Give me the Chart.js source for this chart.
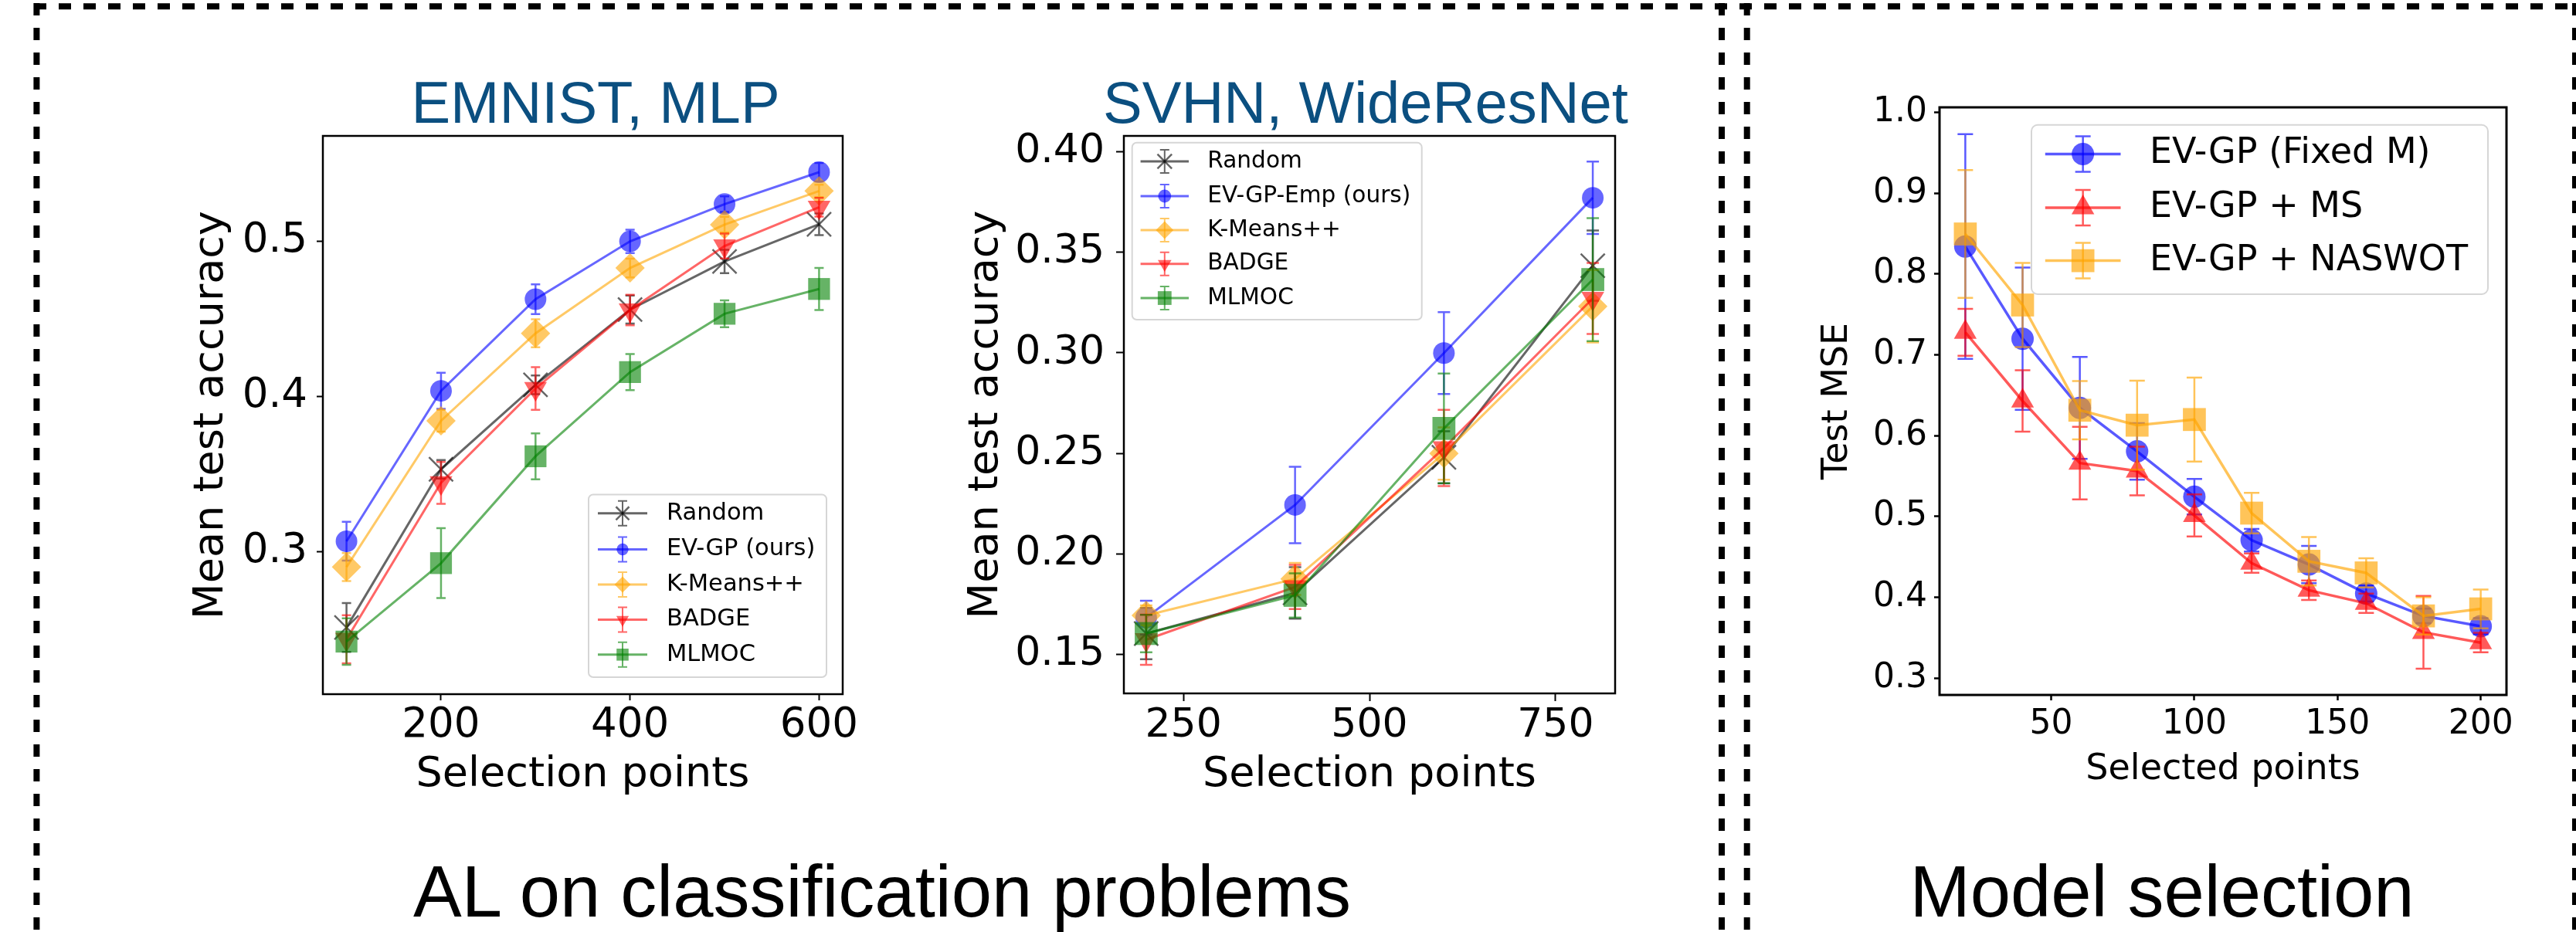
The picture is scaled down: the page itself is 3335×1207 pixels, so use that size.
<!DOCTYPE html>
<html>
<head>
<meta charset="utf-8">
<script src="https://cdn.jsdelivr.net/npm/chart.js@4.4.0/dist/chart.umd.min.js"></script>
<style>
html, body { margin: 0; padding: 0; background: #fff; }
#page { position: relative; width: 3335px; height: 1207px; overflow: hidden; background: #fff; }
#page svg { position: absolute; left: 0; top: 0; }
#page canvas { position: absolute; }
</style>
</head>
<body>
<div id="page">
<svg width="3335" height="1207">
  <g stroke="#000" stroke-width="8" stroke-dasharray="16 16" fill="none">
    <line x1="44" y1="8.3" x2="3335" y2="8.3"/>
    <line x1="47.4" y1="4" x2="47.4" y2="1207"/>
    <line x1="2229" y1="4" x2="2229" y2="1207"/>
    <line x1="2261.7" y1="4" x2="2261.7" y2="1207"/>
    <line x1="3334" y1="4" x2="3334" y2="1207"/>
  </g>
  <g font-family="'Liberation Sans', Arial, Helvetica, sans-serif" text-anchor="middle">
    <text x="771" y="159" font-size="76" fill="#0b4f80">EMNIST, MLP</text>
    <text x="1768" y="159" font-size="76" fill="#0b4f80">SVHN, WideResNet</text>
    <text x="1142" y="1187" font-size="94" fill="#000">AL on classification problems</text>
    <text x="2799" y="1187" font-size="94" fill="#000">Model selection</text>
  </g>
</svg>
<canvas id="emnist" width="1000" height="1000" style="left:150px;top:100px"></canvas>
<canvas id="svhn" width="1000" height="1000" style="left:1150px;top:100px"></canvas>
<canvas id="modelsel" width="1000" height="1000" style="left:2300px;top:100px"></canvas>
</div>
<script>
// ---- EMNIST, MLP ----
const emnistX = [100, 200, 300, 400, 500, 600];
const emnistRandom = [0.251, 0.353, 0.4075, 0.456, 0.487, 0.511];
const emnistRandomErr = [0.0157, 0.006, 0.006, 0.009, 0.0075, 0.007];
const emnistEvgp = [0.3066, 0.4036, 0.4627, 0.500, 0.524, 0.5446];
const emnistEvgpErr = [0.0125, 0.0116, 0.0096, 0.0075, 0.005, 0.006];
const emnistKmeans = [0.290, 0.3843, 0.4407, 0.4828, 0.5108, 0.5325];
const emnistKmeansErr = [0.009, 0.007, 0.009, 0.006, 0.005, 0.004];
const emnistBadge = [0.2434, 0.3443, 0.4051, 0.4557, 0.497, 0.522];
const emnistBadgeErr = [0.0155, 0.0135, 0.0138, 0.0098, 0.008, 0.006];
const emnistMlmoc = [0.2419, 0.2925, 0.3614, 0.4157, 0.4533, 0.4693];
const emnistMlmocErr = [0.015, 0.0225, 0.0148, 0.0116, 0.0087, 0.0136];
const emnistXTicks = [200, 400, 600];
const emnistYTicks = [0.3, 0.4, 0.5];
const emnistYTickLabels = ['0.3', '0.4', '0.5'];

// ---- SVHN, WideResNet ----
const svhnX = [200, 400, 600, 800];
const svhnRandom = [0.1603, 0.1805, 0.248, 0.3434];
const svhnRandomErr = [0.0128, 0.0128, 0.013, 0.0175];
const svhnEvgp = [0.1682, 0.2243, 0.2999, 0.3772];
const svhnEvgpErr = [0.0084, 0.019, 0.0204, 0.018];
const svhnKmeans = [0.1693, 0.1875, 0.2499, 0.3232];
const svhnKmeansErr = [0.005, 0.008, 0.013, 0.018];
const svhnBadge = [0.1572, 0.1835, 0.2527, 0.3271];
const svhnBadgeErr = [0.0125, 0.011, 0.019, 0.0177];
const svhnMlmoc = [0.1603, 0.1793, 0.2624, 0.3365];
const svhnMlmocErr = [0.0093, 0.011, 0.0273, 0.0306];
const svhnXTicks = [250, 500, 750];
const svhnYTicks = [0.15, 0.20, 0.25, 0.30, 0.35, 0.40];
const svhnYTickLabels = ['0.15', '0.20', '0.25', '0.30', '0.35', '0.40'];

// ---- Model selection ----
const msX = [20, 40, 60, 80, 100, 120, 140, 160, 180, 200];
const msFixed = [0.834, 0.720, 0.6344, 0.5806, 0.5245, 0.4707, 0.4406, 0.4047, 0.377, 0.3642];
const msFixedErr = [0.139, 0.088, 0.063, 0.035, 0.022, 0.014, 0.023, 0.010, 0.009, 0.010];
const msMs = [0.728, 0.643, 0.5661, 0.5563, 0.5013, 0.4423, 0.4088, 0.3926, 0.3567, 0.344];
const msMsErr = [0.029, 0.038, 0.045, 0.030, 0.026, 0.012, 0.012, 0.012, 0.045, 0.012];
const msNaswot = [0.8496, 0.7617, 0.6315, 0.613, 0.620, 0.5042, 0.4446, 0.4302, 0.377, 0.3857];
const msNaswotErr = [0.079, 0.052, 0.036, 0.055, 0.052, 0.025, 0.030, 0.018, 0.023, 0.024];
const msXTicks = [50, 100, 150, 200];
const msYTicks = [0.3, 0.4, 0.5, 0.6, 0.7, 0.8, 0.9, 1.0];
const msYTickLabels = ['0.3', '0.4', '0.5', '0.6', '0.7', '0.8', '0.9', '1.0'];

const FONT = "'DejaVu Sans', sans-serif";
const BLACK = [0, 0, 0], BLUE = [0, 0, 255], ORANGE = [255, 165, 0], RED = [255, 0, 0], GREEN = [0, 128, 0];

function rgba(c, a) { return 'rgba(' + c[0] + ',' + c[1] + ',' + c[2] + ',' + a + ')'; }

// vertical error bars with caps, drawn under each series
const errorBars = {
  id: 'errorBars',
  beforeDatasetDraw(chart, args, opts) {
    const ds = chart.data.datasets[args.index];
    if (!ds.errors) return;
    const ctx = chart.ctx, xs = chart.scales.x, ys = chart.scales.y;
    ctx.save();
    ctx.strokeStyle = ds.borderColor;
    ctx.lineWidth = opts.width;
    ctx.beginPath();
    ds.data.forEach((p, j) => {
      const x = xs.getPixelForValue(p.x);
      const lo = ys.getPixelForValue(p.y - ds.errors[j]);
      const hi = ys.getPixelForValue(p.y + ds.errors[j]);
      ctx.moveTo(x, lo); ctx.lineTo(x, hi);
      ctx.moveTo(x - opts.cap, lo); ctx.lineTo(x + opts.cap, lo);
      ctx.moveTo(x - opts.cap, hi); ctx.lineTo(x + opts.cap, hi);
    });
    ctx.stroke();
    ctx.restore();
  }
};

// full box around the plot area (matplotlib spines)
const frame = {
  id: 'frame',
  afterDatasetsDraw(chart, args, opts) {
    const a = chart.chartArea, ctx = chart.ctx;
    ctx.save();
    ctx.strokeStyle = '#000';
    ctx.lineWidth = opts.width;
    ctx.strokeRect(a.left, a.top, a.right - a.left, a.bottom - a.top);
    ctx.restore();
  }
};

// legend inside the axes, matplotlib style
const boxLegend = {
  id: 'boxLegend',
  afterDatasetsDraw(chart, args, o) {
    if (!o.box) return;
    const ctx = chart.ctx;
    const [bx, by, bw, bh] = o.box;
    ctx.save();
    ctx.beginPath();
    ctx.roundRect(bx, by, bw, bh, o.corner);
    ctx.fillStyle = 'rgba(255,255,255,0.8)';
    ctx.fill();
    ctx.strokeStyle = '#d6d6d6';
    ctx.lineWidth = 2;
    ctx.stroke();
    ctx.font = o.fontSize + 'px ' + FONT;
    ctx.textBaseline = 'middle';
    ctx.textAlign = 'left';
    chart.data.datasets.forEach((ds, i) => {
      const y = o.rows[i], x0 = o.handle[0], x1 = o.handle[1], xm = (x0 + x1) / 2;
      ctx.strokeStyle = ds.borderColor;
      ctx.lineWidth = ds.borderWidth;
      ctx.beginPath(); ctx.moveTo(x0, y); ctx.lineTo(x1, y); ctx.stroke();
      ctx.lineWidth = o.errWidth;
      ctx.beginPath();
      ctx.moveTo(xm, y - o.errH); ctx.lineTo(xm, y + o.errH);
      ctx.moveTo(xm - o.cap, y - o.errH); ctx.lineTo(xm + o.cap, y - o.errH);
      ctx.moveTo(xm - o.cap, y + o.errH); ctx.lineTo(xm + o.cap, y + o.errH);
      ctx.stroke();
      ctx.fillStyle = ds.pointBackgroundColor;
      ctx.strokeStyle = ds.pointBorderColor;
      ctx.lineWidth = ds.pointBorderWidth;
      Chart.helpers.drawPoint(ctx, {
        pointStyle: ds.pointStyle, rotation: ds.pointRotation || 0,
        radius: ds.pointRadius * o.markerScale, borderWidth: ds.pointBorderWidth
      }, xm, y);
      ctx.fillStyle = '#000';
      ctx.fillText(ds.label, o.textX, y);
    });
    ctx.restore();
  }
};

function series(label, xs, ys, errs, color, style, radius, lw, alpha, extra) {
  const c = rgba(color, alpha);
  return Object.assign({
    label: label,
    data: xs.map((x, j) => ({ x: x, y: ys[j] })),
    errors: errs,
    borderColor: c,
    backgroundColor: c,
    borderWidth: lw,
    pointStyle: style,
    pointRadius: radius,
    pointHoverRadius: radius,
    pointBackgroundColor: c,
    pointBorderColor: c,
    pointBorderWidth: style === 'crossRot' ? 2.5 : 0,
    tension: 0
  }, extra || {});
}

function makeChart(id, datasets, ax, L) {
  datasets.forEach((d, i) => { d.order = datasets.length - i; });
  return new Chart(document.getElementById(id), {
    type: 'line',
    data: { datasets: datasets },
    options: {
      responsive: false,
      devicePixelRatio: 1,
      animation: false,
      events: [],
      layout: { padding: { left: 0, top: L.pt, right: L.pr, bottom: 0 } },
      plugins: {
        legend: { display: false },
        tooltip: { enabled: false },
        errorBars: L.err,
        frame: { width: L.frame },
        boxLegend: L.legend
      },
      scales: {
        x: {
          type: 'linear', min: ax.xMin, max: ax.xMax,
          afterBuildTicks: s => { s.ticks = ax.xTicks.map(v => ({ value: v })); },
          afterFit: s => { s.height = L.xh; },
          ticks: {
            autoSkip: false, maxRotation: 0, padding: L.xPad, color: '#000',
            font: { family: FONT, size: L.tickSize },
            callback: (v, i) => String(ax.xTicks[i])
          },
          grid: { drawOnChartArea: false, drawTicks: true, tickLength: L.tick, tickWidth: L.tickW, tickColor: '#000' },
          border: { display: false },
          title: {
            display: true, text: ax.xTitle, color: '#000',
            font: { family: FONT, size: L.labelSize },
            padding: { top: 0, bottom: L.xTitlePad }
          }
        },
        y: {
          type: 'linear', min: ax.yMin, max: ax.yMax,
          afterBuildTicks: s => { s.ticks = ax.yTicks.map(v => ({ value: v })); },
          afterFit: s => { s.width = L.yw; },
          ticks: {
            padding: L.yPad, color: '#000',
            font: { family: FONT, size: L.tickSize },
            callback: (v, i) => ax.yTickLabels[i]
          },
          grid: { drawOnChartArea: false, drawTicks: true, tickLength: L.tick, tickWidth: L.tickW, tickColor: '#000' },
          border: { display: false },
          title: {
            display: true, text: ax.yTitle, color: '#000',
            font: { family: FONT, size: L.labelSize },
            padding: { top: L.yTitlePad, bottom: 0 }
          }
        }
      }
    },
    plugins: [errorBars, frame, boxLegend]
  });
}

const A = 0.6;

makeChart('emnist', [
  series('Random', emnistX, emnistRandom, emnistRandomErr, BLACK, 'crossRot', 22, 3, A),
  series('EV-GP (ours)', emnistX, emnistEvgp, emnistEvgpErr, BLUE, 'circle', 14, 3, A),
  series('K-Means++', emnistX, emnistKmeans, emnistKmeansErr, ORANGE, 'rectRot', 19, 3, A),
  series('BADGE', emnistX, emnistBadge, emnistBadgeErr, RED, 'triangle', 17, 3, A, { pointRotation: 180 }),
  series('MLMOC', emnistX, emnistMlmoc, emnistMlmocErr, GREEN, 'rect', 20, 3, A)
], {
  xMin: 75, xMax: 625, yMin: 0.208, yMax: 0.568,
  xTicks: emnistXTicks, yTicks: emnistYTicks, yTickLabels: emnistYTickLabels,
  xTitle: 'Selection points', yTitle: 'Mean test accuracy'
}, {
  pt: 76, pr: 59, xh: 201, yw: 268, tick: 8, tickW: 2, frame: 2.5,
  tickSize: 53, labelSize: 54, xPad: 1, yPad: 12, xTitlePad: 64, yTitlePad: 92,
  err: { width: 2.5, cap: 6 },
  legend: {
    box: [612, 540.5, 308, 236.5], corner: 6, rows: [564.8, 611.5, 657, 702.4, 747.8],
    handle: [624, 688], textX: 713, fontSize: 30.5, errH: 16, cap: 6, errWidth: 2, markerScale: 0.55
  }
});

makeChart('svhn', [
  series('Random', svhnX, svhnRandom, svhnRandomErr, BLACK, 'crossRot', 22, 3, A),
  series('EV-GP-Emp (ours)', svhnX, svhnEvgp, svhnEvgpErr, BLUE, 'circle', 14, 3, A),
  series('K-Means++', svhnX, svhnKmeans, svhnKmeansErr, ORANGE, 'rectRot', 19, 3, A),
  series('BADGE', svhnX, svhnBadge, svhnBadgeErr, RED, 'triangle', 17, 3, A, { pointRotation: 180 }),
  series('MLMOC', svhnX, svhnMlmoc, svhnMlmocErr, GREEN, 'rect', 21, 3, A)
], {
  xMin: 170, xMax: 830, yMin: 0.1305, yMax: 0.408,
  xTicks: svhnXTicks, yTicks: svhnYTicks, yTickLabels: svhnYTickLabels,
  xTitle: 'Selection points', yTitle: 'Mean test accuracy'
}, {
  pt: 76, pr: 59, xh: 202, yw: 305, tick: 10, tickW: 2, frame: 2.5,
  tickSize: 52, labelSize: 54, xPad: 1, yPad: 15, xTitlePad: 64, yTitlePad: 95,
  err: { width: 2.5, cap: 8 },
  legend: {
    box: [315.7, 84.8, 375, 229.2], corner: 6, rows: [109, 154, 198, 241.8, 286],
    handle: [326.6, 389], textX: 413.3, fontSize: 29.6, errH: 15, cap: 6, errWidth: 2, markerScale: 0.6
  }
});

makeChart('modelsel', [
  series('EV-GP (Fixed M)', msX, msFixed, msFixedErr, BLUE, 'circle', 14.5, 3.5, 0.65),
  series('EV-GP + MS', msX, msMs, msMsErr, RED, 'triangle', 17, 3.5, 0.65),
  series('EV-GP + NASWOT', msX, msNaswot, msNaswotErr, ORANGE, 'rect', 21, 3.5, 0.65)
], {
  xMin: 11, xMax: 209, yMin: 0.2792, yMax: 1.0063,
  xTicks: msXTicks, yTicks: msYTicks, yTickLabels: msYTickLabels,
  xTitle: 'Selected points', yTitle: 'Test MSE'
}, {
  pt: 39, pr: 55, xh: 200, yw: 211, tick: 7, tickW: 2.5, frame: 3,
  tickSize: 44, labelSize: 46, xPad: 5, yPad: 9, xTitlePad: 75, yTitlePad: 51,
  err: { width: 2.5, cap: 10 },
  legend: {
    box: [330, 61.8, 591, 219.2], corner: 8, rows: [99.4, 169, 237.6],
    handle: [347.8, 445.5], textX: 483, fontSize: 46, errH: 23, cap: 10, errWidth: 2.5, markerScale: 1
  }
});
</script>
</body>
</html>
